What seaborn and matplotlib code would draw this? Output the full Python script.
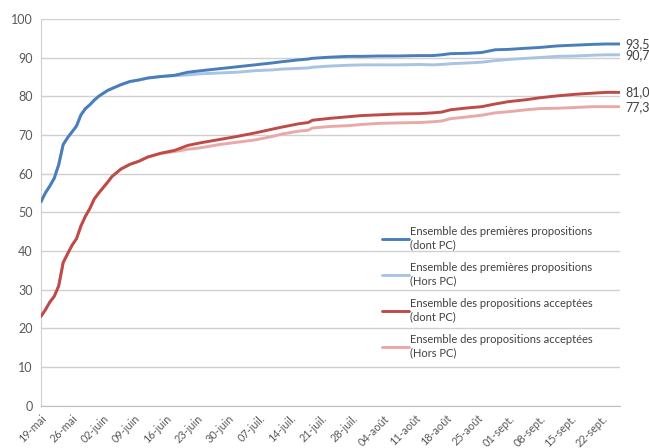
import pandas as pd
import matplotlib
matplotlib.use("Agg")
import matplotlib.pyplot as plt
import seaborn as sns

# Days counted from 19 May
days = [0, 1, 2, 3, 4, 5, 6, 7, 8, 9, 10, 11, 12, 13, 15, 16, 18, 20, 22, 24,
        27, 30, 33, 36, 40, 44, 48, 52, 54, 58, 60, 61, 65, 69, 72, 76, 80, 85,
        88, 90, 92, 96, 99, 102, 105, 109, 112, 116, 120, 124, 127, 130]

prem_dont_pc = [52.7, 55.0, 56.8, 58.8, 62.3, 67.5, 69.3, 70.8, 72.3, 75.2, 76.8, 77.8,
                79.0, 80.0, 81.5, 82.0, 83.0, 83.8, 84.2, 84.7, 85.1, 85.4, 86.2, 86.6,
                87.1, 87.6, 88.1, 88.6, 88.9, 89.4, 89.6, 89.8, 90.1, 90.3, 90.3, 90.4,
                90.4, 90.5, 90.5, 90.7, 91.0, 91.1, 91.3, 92.0, 92.1, 92.4, 92.6, 93.0,
                93.2, 93.4, 93.5, 93.5]

prem_hors_pc = [52.7, 55.0, 56.8, 58.8, 62.3, 67.5, 69.3, 70.8, 72.3, 75.2, 76.8, 77.8,
                79.0, 80.0, 81.5, 82.0, 83.0, 83.8, 84.2, 84.7, 85.1, 85.3, 85.5, 85.8,
                86.0, 86.2, 86.6, 86.8, 87.0, 87.2, 87.3, 87.5, 87.8, 88.0, 88.1, 88.1,
                88.1, 88.2, 88.1, 88.2, 88.4, 88.6, 88.8, 89.2, 89.5, 89.8, 90.0, 90.3,
                90.4, 90.6, 90.7, 90.7]

acc_dont_pc = [23.1, 24.8, 26.8, 28.3, 31.0, 37.0, 39.3, 41.5, 43.2, 46.5, 49.0, 51.0,
               53.5, 55.0, 57.8, 59.3, 61.2, 62.4, 63.2, 64.3, 65.3, 66.0, 67.3, 68.0,
               68.8, 69.6, 70.5, 71.5, 72.0, 72.9, 73.2, 73.8, 74.3, 74.7, 75.0, 75.2,
               75.4, 75.5, 75.7, 75.9, 76.5, 77.0, 77.3, 78.0, 78.6, 79.1, 79.6, 80.1,
               80.5, 80.8, 81.0, 81.0]

acc_hors_pc = [23.1, 24.8, 26.8, 28.3, 31.0, 37.0, 39.3, 41.5, 43.2, 46.5, 49.0, 51.0,
               53.5, 55.0, 57.8, 59.3, 61.2, 62.4, 63.2, 64.3, 65.2, 65.7, 66.3, 66.7,
               67.5, 68.1, 68.7, 69.6, 70.2, 71.0, 71.2, 71.8, 72.2, 72.4, 72.7, 73.0,
               73.1, 73.2, 73.4, 73.6, 74.2, 74.7, 75.1, 75.7, 76.0, 76.5, 76.8, 76.9,
               77.1, 77.3, 77.3, 77.3]

series_names = ["Ensemble des premières propositions\n(dont PC)",
                "Ensemble des premières propositions\n(Hors PC)",
                "Ensemble des propositions acceptées\n(dont PC)",
                "Ensemble des propositions acceptées\n(Hors PC)"]
colors = ["#4a7ebb", "#a9c3e2", "#be4b48", "#e8a9a8"]
end_labels = ["93,5", "90,7", "81,0", "77,3"]

tick_labels = ["19-mai", "26-mai", "02-juin", "09-juin", "16-juin", "23-juin", "30-juin",
               "07-juil.", "14-juil.", "21-juil.", "28-juil.", "04-août", "11-août",
               "18-août", "25-août", "01-sept.", "08-sept.", "15-sept.", "22-sept."]

start = pd.Timestamp("2018-05-19")
dates = start + pd.to_timedelta(days, unit="D")

frames = []
for name, vals in zip(series_names, [prem_dont_pc, prem_hors_pc, acc_dont_pc, acc_hors_pc]):
    frames.append(pd.DataFrame({"date": dates, "val": vals, "serie": name}))
df = pd.concat(frames, ignore_index=True)

sns.set_style("white")
plt.rcParams['font.family'] = ['Lato', 'DejaVu Sans']

fig = plt.figure(figsize=(6.49, 4.48), dpi=100)
ax = fig.add_axes([0.063, 0.094, 0.892, 0.864])

# light series first so the dark ones sit on top where they overlap
draw_order = [1, 3, 0, 2]
sns.lineplot(data=df, x="date", y="val", hue="serie",
             hue_order=[series_names[i] for i in draw_order],
             palette=[colors[i] for i in draw_order], linewidth=2.1, ax=ax, zorder=3)

ax.set_xlim(start, start + pd.Timedelta(days=130))
ax.set_ylim(0, 100)
ax.set_yticks(range(0, 101, 10))
ax.yaxis.grid(True, color="#d0d0d0", linewidth=1)
ax.set_axisbelow(True)

ticks = [start + pd.Timedelta(days=7 * i) for i in range(len(tick_labels))]
ax.set_xticks(ticks)
ax.set_xticklabels(tick_labels, rotation=45, ha="right", rotation_mode="anchor")
ax.tick_params(axis="x", length=4, color="#bfbfbf", colors="#595959", labelsize=7.8, pad=1)
ax.tick_params(axis="y", length=0, colors="#595959", labelsize=9, pad=6)

for s in ["top", "right"]:
    ax.spines[s].set_visible(False)
ax.spines["left"].set_color("#d0d0d0")
ax.spines["bottom"].set_color("#bfbfbf")

ax.set_xlabel("")
ax.set_ylabel("")

# Final values to the right of each line
last_vals = [prem_dont_pc[-1], prem_hors_pc[-1], acc_dont_pc[-1], acc_hors_pc[-1]]
for v, lab in zip(last_vals, end_labels):
    ax.annotate(lab, xy=(dates[-1], v), xytext=(4, 0), textcoords="offset points",
                va="center", ha="left", fontsize=9, color="#404040", annotation_clip=False)

handles, labels = ax.get_legend_handles_labels()
lookup = dict(zip(labels, handles))
ax.legend([lookup[n] for n in series_names], series_names,
          loc="upper left", bbox_to_anchor=(0.58, 0.478), frameon=False, fontsize=8,
          handlelength=2.4, handletextpad=0.1, labelspacing=1.1, borderpad=0,
          labelcolor="#404040")

fig.savefig("out.png", dpi=100)
